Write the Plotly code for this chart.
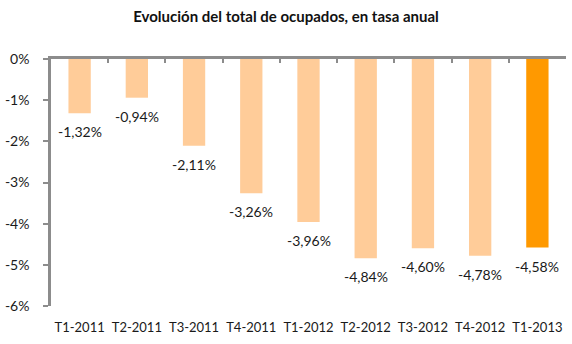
import plotly.graph_objects as go

categories = ["T1-2011", "T2-2011", "T3-2011", "T4-2011", "T1-2012",
              "T2-2012", "T3-2012", "T4-2012", "T1-2013"]
values = [-1.32, -0.94, -2.11, -3.26, -3.96, -4.84, -4.60, -4.78, -4.58]
y_tickvals = [0, -1, -2, -3, -4, -5, -6]
y_ticktext = ["0%", "-1%", "-2%", "-3%", "-4%", "-5%", "-6%"]
title = "Evolución del total de ocupados, en tasa anual"

light = "#FFCC99"
dark = "#FF9900"
colors = [light] * (len(values) - 1) + [dark]
axis_gray = "#8C8C8C"
font_family = "Lato, 'Open Sans', sans-serif"

labels = [f"{v:.2f}".replace(".", ",") + "%" for v in values]

fig = go.Figure()
fig.add_trace(go.Bar(x=categories, y=values, marker_color=colors,
                     marker_line_width=0, width=0.39, hoverinfo="skip",
                     xaxis="x", yaxis="y"))
# invisible trace to drive the top axis line with boundary ticks
fig.add_trace(go.Scatter(x=categories, y=[0] * len(categories), mode="markers",
                         marker=dict(size=0.1, opacity=0), hoverinfo="skip",
                         xaxis="x2", yaxis="y"))

for c, v, t in zip(categories, values, labels):
    fig.add_annotation(x=c, y=v, text=t, showarrow=False, yanchor="top",
                       yshift=-8, xref="x", yref="y",
                       font=dict(family=font_family, size=14, color="#1a1a1a"))

fig.update_layout(
    width=572, height=344,
    margin=dict(l=51, r=6, t=59, b=38),
    paper_bgcolor="white", plot_bgcolor="white",
    showlegend=False,
    title=dict(text="<b>" + title + "</b>", x=0.5, xanchor="center",
               y=0.95, yanchor="middle", yref="container",
               font=dict(family=font_family, size=15, color="#111111")),
    xaxis=dict(type="category", categoryorder="array", categoryarray=categories,
               range=[-0.5, len(categories) - 0.5], showline=False, ticks="",
               showgrid=False, zeroline=False, ticklabelstandoff=12,
               tickfont=dict(family=font_family, size=13, color="#1a1a1a")),
    xaxis2=dict(type="category", categoryorder="array", categoryarray=categories,
                range=[-0.5, len(categories) - 0.5], overlaying="x", side="top",
                showticklabels=False, showline=True, linecolor=axis_gray,
                linewidth=2.5, ticks="inside", tickson="boundaries", ticklen=4,
                tickwidth=2, tickcolor=axis_gray, showgrid=False, zeroline=False),
    yaxis=dict(range=[-6, 0], tickvals=y_tickvals, ticktext=y_ticktext,
               showline=True, linecolor=axis_gray, linewidth=2.5,
               ticks="outside", ticklen=5, tickwidth=2, tickcolor=axis_gray,
               showgrid=False, zeroline=False, ticklabelstandoff=11,
               tickfont=dict(family=font_family, size=14, color="#1a1a1a")),
)

fig.write_html("out.html")
